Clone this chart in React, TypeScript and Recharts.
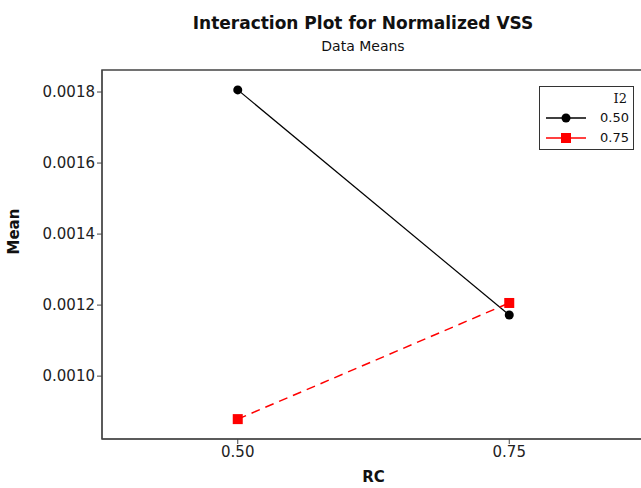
import { Line, LineChart, ReferenceArea, XAxis, YAxis } from "recharts";

const rcLevels = [0.5, 0.75];
const meanI2Low = [0.001806, 0.001172];
const meanI2High = [0.000879, 0.001206];
const yTicks = [0.001, 0.0012, 0.0014, 0.0016, 0.0018];
const xTicks = [0.5, 0.75];
const legendTitle = "I2";
const seriesNames = ["0.50", "0.75"];

const data = rcLevels.map((rc, i) => ({ rc, low: meanI2Low[i], high: meanI2High[i] }));

const FONT = "'DejaVu Sans', sans-serif";
const X_DOMAIN: [number, number] = [0.375, 0.875];
const Y_DOMAIN: [number, number] = [0.000823, 0.001862];

function SquareDot(props: any) {
    const { cx, cy } = props;
    if (cx == null || cy == null) return null;
    return <rect x={cx - 5} y={cy - 5} width={10} height={10} fill="#ff0000" />;
}

function LegendBox() {
    return (
        <div style={{ position: "absolute", left: 539, top: 86, border: "1.5px solid #333", width: 95, height: 64, boxSizing: "border-box", background: "#fff", fontFamily: FONT, fontSize: 13, color: "#111" }}>
            <div style={{ position: "absolute", right: 6, top: 4, fontFamily: "'DejaVu Serif', serif" }}>{legendTitle}</div>
            <svg width={46} height={40} style={{ position: "absolute", left: 4, top: 22 }}>
                <line x1={2} x2={42} y1={9} y2={9} stroke="#000" strokeWidth={1.3} />
                <circle cx={22} cy={9} r={4.5} fill="#000" />
                <line x1={2} x2={42} y1={29} y2={29} stroke="#ff0000" strokeWidth={1.3} />
                <rect x={17} y={24} width={10} height={10} fill="#ff0000" />
            </svg>
            <div style={{ position: "absolute", left: 60, top: 23 }}>{seriesNames[0]}</div>
            <div style={{ position: "absolute", left: 60, top: 43 }}>{seriesNames[1]}</div>
        </div>
    );
}

export default function App() {
    return (
        <div style={{ position: "absolute", left: 0, top: 0, width: 641, height: 488, overflow: "hidden", background: "#fff" }}>
            <div style={{ position: "absolute", left: 0, width: 726, top: 13, textAlign: "center", fontFamily: FONT, fontWeight: "bold", fontSize: 17, color: "#111" }}>
                Interaction Plot for Normalized VSS
            </div>
            <div style={{ position: "absolute", left: 0, width: 726, top: 38, textAlign: "center", fontFamily: FONT, fontSize: 14, color: "#111" }}>
                Data Means
            </div>
            <LineChart width={660} height={488} data={data} margin={{ top: 70, right: 15, left: 0, bottom: 0 }} style={{ position: "absolute", left: 0, top: 0 }}>
                <ReferenceArea x1={X_DOMAIN[0]} x2={X_DOMAIN[1]} y1={Y_DOMAIN[0]} y2={Y_DOMAIN[1]} fill="none" stroke="#444" strokeWidth={1.5} ifOverflow="visible" />
                <XAxis
                    dataKey="rc"
                    type="number"
                    domain={X_DOMAIN}
                    ticks={xTicks}
                    tickFormatter={(v: number) => v.toFixed(2)}
                    height={49}
                    stroke="#444"
                    tickSize={5}
                    tick={{ fontFamily: FONT, fontSize: 15, fill: "#222" }}
                    label={{ value: "RC", position: "insideBottom", offset: 6, fontFamily: FONT, fontWeight: "bold", fontSize: 15, fill: "#111" }}
                />
                <YAxis
                    type="number"
                    domain={Y_DOMAIN}
                    ticks={yTicks}
                    tickFormatter={(v: number) => v.toFixed(4)}
                    width={102}
                    stroke="#444"
                    tickSize={5}
                    tick={{ fontFamily: FONT, fontSize: 15, fill: "#222" }}
                    label={{ value: "Mean", angle: -90, position: "insideLeft", offset: 14, fontFamily: FONT, fontWeight: "bold", fontSize: 15, fill: "#111" }}
                />
                <Line dataKey="low" name={seriesNames[0]} stroke="#000" strokeWidth={1.2} dot={{ r: 4.5, fill: "#000", stroke: "#000", strokeWidth: 0 }} isAnimationActive={false} />
                <Line dataKey="high" name={seriesNames[1]} stroke="#ff0000" strokeWidth={1.5} strokeDasharray="9 6" dot={<SquareDot />} isAnimationActive={false} />
            </LineChart>
            <LegendBox />
        </div>
    );
}
